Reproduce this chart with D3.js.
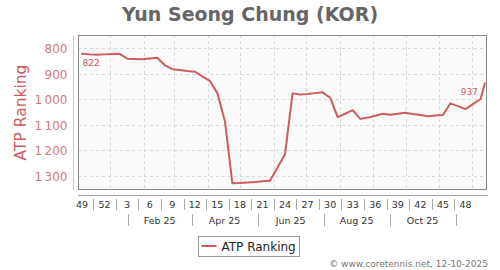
<!DOCTYPE html>
<html>
<head>
<meta charset="utf-8">
<script src="https://cdn.jsdelivr.net/npm/d3@7/dist/d3.min.js"></script>
<style>
body { margin: 0; background: #fff; }
svg { font-family: "DejaVu Sans", sans-serif; display: block; }
</style>
</head>
<body>
<div id="maindiv"></div>
<script>
// ---- data ----
var playerName = "Yun Seong Chung (KOR)";
var seriesName = "ATP Ranking";
var creditText = "\u00a9 www.coretennis.net, 12-10-2025";

// weekly ranking, one value per Monday starting 2 Dec 2024 (ISO week 49)
var firstMonday = new Date(2024, 11, 2);
var ranks = [822, 824, 825, 824, 823, 822, 841, 842, 843, 840,
             837, 866, 882, 885, 889, 892, 910, 928, 976, 1085,
             1330, 1329, 1327, 1325, 1322, 1320, 1268, 1216, 977, 981,
             979, 976, 973, 994, 1070, 1057, 1043, 1077, 1072, 1065,
             1057, 1061, 1057, 1053, 1058, 1062, 1067, 1064, 1062, 1016,
             1027, 1039, 1019, 999];
// last (live) point
var liveDate = new Date(2025, 11, 12);
var liveRank = 937;

var yTicks = [800, 900, 1000, 1100, 1200, 1300];
var weekLabelEvery = 3;
var monthLabels = ["Feb 25", "Apr 25", "Jun 25", "Aug 25", "Oct 25"];

// ---- layout ----
var width = 500, height = 270;
var plot = { left: 78, right: 487, top: 35, bottom: 190 };
var red = "#cd5c5c";

var svg = d3.select("#maindiv").append("svg")
    .attr("width", width)
    .attr("height", height);

var dates = d3.timeMonday.range(firstMonday, d3.timeWeek.offset(firstMonday, ranks.length));
var data = dates.map(function (d, i) { return { date: d, rank: ranks[i] }; });
data.push({ date: liveDate, rank: liveRank });

var x = d3.scaleTime()
    .domain([new Date(2024, 10, 28, 7), new Date(2025, 11, 14)])
    .range([plot.left, plot.right]);

// month axis (second row + vertical grid)
var xm = d3.scaleTime()
    .domain([new Date(2024, 11, 17), new Date(2025, 11, 30)])
    .range([plot.left, plot.right]);

var y = d3.scaleLinear()
    .domain([748, 1356])
    .range([plot.top, plot.bottom]);

// title
svg.append("text")
    .attr("x", 250).attr("y", 21)
    .attr("text-anchor", "middle")
    .attr("font-size", "19px")
    .attr("font-weight", "bold")
    .attr("fill", "#666")
    .text(playerName);

// plot background
svg.append("rect")
    .attr("x", plot.left).attr("y", plot.top)
    .attr("width", plot.right - plot.left)
    .attr("height", plot.bottom - plot.top)
    .attr("fill", "#fafafa");

// vertical grid at mid-month
var gridDates = d3.timeMonth.range(new Date(2024, 11, 1), new Date(2026, 0, 1))
    .map(function (d) { return d3.timeDay.offset(d, 15); })
    .filter(function (d) { return xm(d) > plot.left && xm(d) < plot.right; });

svg.append("g").selectAll("line")
    .data(gridDates)
    .enter().append("line")
    .attr("x1", function (d) { return Math.round(xm(d)) + 0.5; })
    .attr("x2", function (d) { return Math.round(xm(d)) + 0.5; })
    .attr("y1", plot.top).attr("y2", plot.bottom)
    .attr("stroke", "#d8d8d8")
    .attr("stroke-dasharray", "3,3");

// horizontal grid
svg.append("g").selectAll("line")
    .data(yTicks)
    .enter().append("line")
    .attr("x1", plot.left).attr("x2", plot.right)
    .attr("y1", function (d) { return Math.round(y(d)) + 0.5; })
    .attr("y2", function (d) { return Math.round(y(d)) + 0.5; })
    .attr("stroke", "#d8d8d8")
    .attr("stroke-dasharray", "3,3");

// y axis
var yAxis = svg.append("g")
    .attr("transform", "translate(73.5,0)")
    .call(d3.axisLeft(y).tickValues(yTicks).tickSize(0).tickPadding(6)
        .tickFormat(function (d) { return d3.format(",")(d).replace(",", "\u2009"); }));
yAxis.select(".domain").remove();
yAxis.selectAll("text")
    .attr("font-family", "DejaVu Sans")
    .attr("font-size", "12px")
    .attr("fill", "#d27a7a")
    .attr("dy", "0.36em");
svg.append("line")
    .attr("x1", 73.5).attr("x2", 73.5)
    .attr("y1", plot.top).attr("y2", plot.bottom)
    .attr("stroke", "#e6bcbc");

svg.append("text")
    .attr("transform", "translate(26," + ((plot.top + plot.bottom) / 2) + ") rotate(-90)")
    .attr("text-anchor", "middle")
    .attr("font-size", "15.5px")
    .attr("fill", red)
    .text(seriesName);

// line
svg.append("clipPath").attr("id", "clip")
    .append("rect")
    .attr("x", plot.left).attr("y", plot.top)
    .attr("width", plot.right - plot.left)
    .attr("height", plot.bottom - plot.top);

var line = d3.line()
    .x(function (d) { return x(d.date); })
    .y(function (d) { return y(d.rank); });

svg.append("path")
    .datum(data)
    .attr("clip-path", "url(#clip)")
    .attr("d", line)
    .attr("fill", "none")
    .attr("stroke", red)
    .attr("stroke-width", 2)
    .attr("stroke-linejoin", "round")
    .attr("stroke-linecap", "round");

// data labels on first and last point
var first = data[0], last = data[data.length - 1];
svg.append("text")
    .attr("x", x(first.date) + 0.5)
    .attr("y", y(first.rank) + 12.5)
    .attr("font-size", "9px")
    .attr("fill", red)
    .text(first.rank);
svg.append("text")
    .attr("x", x(last.date) - 7)
    .attr("y", y(last.rank) + 12)
    .attr("text-anchor", "end")
    .attr("font-size", "9px")
    .attr("fill", red)
    .text(last.rank);

// plot border
svg.append("rect")
    .attr("x", plot.left + 0.5).attr("y", plot.top + 0.5)
    .attr("width", plot.right - plot.left - 1)
    .attr("height", plot.bottom - plot.top - 1)
    .attr("fill", "none")
    .attr("stroke", "#888");

// x axis line
svg.append("line")
    .attr("x1", plot.left).attr("x2", plot.right + 1)
    .attr("y1", 195.5).attr("y2", 195.5)
    .attr("stroke", "#aaa");

// week row
var weekTicks = dates.filter(function (d, i) { return i % weekLabelEvery === 0; });
var weekFmt = d3.timeFormat("%V");
svg.append("g").selectAll("text")
    .data(weekTicks)
    .enter().append("text")
    .attr("x", function (d) { return x(d); })
    .attr("y", 208)
    .attr("text-anchor", "middle")
    .attr("font-size", "9.5px")
    .attr("fill", "#333")
    .text(function (d) { return +weekFmt(d); });

var weekSeps = weekTicks.slice(1).map(function (d, i) {
    return (x(weekTicks[i]) + x(d)) / 2;
});
svg.append("g").selectAll("line")
    .data(weekSeps)
    .enter().append("line")
    .attr("x1", function (d) { return Math.round(d) + 0.5; })
    .attr("x2", function (d) { return Math.round(d) + 0.5; })
    .attr("y1", 199).attr("y2", 210)
    .attr("stroke", "#aaa");

// month row: separators on Feb 1, Apr 1, ... Dec 1
var monthSeps = d3.timeMonth.range(new Date(2025, 1, 1), new Date(2026, 0, 1))
    .filter(function (d) { return d.getMonth() % 2 === 1; });
svg.append("g").selectAll("line")
    .data(monthSeps)
    .enter().append("line")
    .attr("x1", function (d) { return Math.round(xm(d)) + 0.5; })
    .attr("x2", function (d) { return Math.round(xm(d)) + 0.5; })
    .attr("y1", 214).attr("y2", 226)
    .attr("stroke", "#aaa");

svg.append("g").selectAll("text")
    .data(monthLabels)
    .enter().append("text")
    .attr("x", function (d, i) { return (xm(monthSeps[i]) + xm(monthSeps[i + 1])) / 2; })
    .attr("y", 224)
    .attr("text-anchor", "middle")
    .attr("font-size", "9.5px")
    .attr("fill", "#333")
    .text(function (d) { return d; });

// legend
var legend = svg.append("g").attr("transform", "translate(198.5,236.5)");
legend.append("rect")
    .attr("width", 101).attr("height", 20)
    .attr("fill", "#fff")
    .attr("stroke", "#999");
legend.append("line")
    .attr("x1", 3).attr("x2", 18)
    .attr("y1", 9.5).attr("y2", 9.5)
    .attr("stroke", red)
    .attr("stroke-width", 2);
legend.append("text")
    .attr("x", 23).attr("y", 14)
    .attr("font-size", "12px")
    .attr("fill", "#222")
    .text(seriesName);

// credits
svg.append("text")
    .attr("x", 488).attr("y", 267)
    .attr("text-anchor", "end")
    .attr("font-size", "9px")
    .attr("fill", "#777")
    .text(creditText);
</script>
</body>
</html>
